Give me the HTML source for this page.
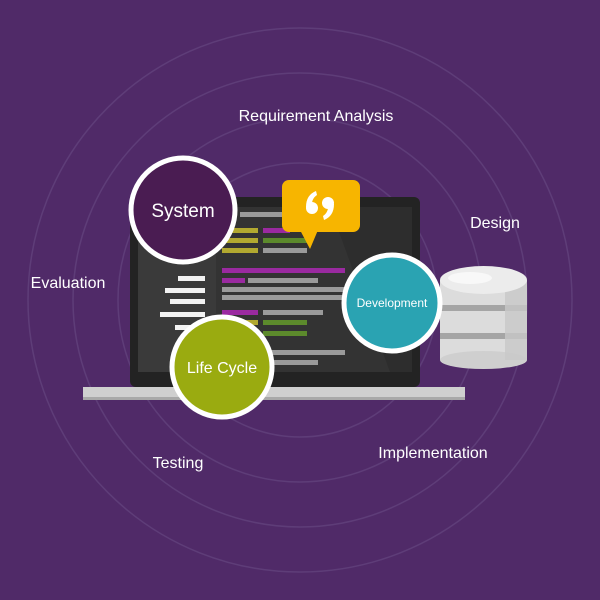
<!DOCTYPE html>
<html><head><meta charset="utf-8"><style>
html,body{margin:0;padding:0;background:#502a68;}
svg{display:block}
text{font-family:"Liberation Sans",sans-serif;fill:#fff;}
</style></head><body>
<svg width="600" height="600" viewBox="0 0 600 600" xmlns="http://www.w3.org/2000/svg">
<rect width="600" height="600" fill="#502a68"/>
<g fill="none" stroke="#654680" stroke-width="1.5" opacity="0.7">
<circle cx="300" cy="300" r="272"/>
<circle cx="300" cy="300" r="227"/>
<circle cx="300" cy="300" r="182"/>
<circle cx="300" cy="300" r="137"/>
<circle cx="300" cy="300" r="92"/>
</g>
<g font-size="16">
<text x="316" y="121" text-anchor="middle">Requirement Analysis</text>
<text x="495" y="228" text-anchor="middle">Design</text>
<text x="68" y="288" text-anchor="middle">Evaluation</text>
<text x="178" y="468" text-anchor="middle">Testing</text>
<text x="433" y="458" text-anchor="middle">Implementation</text>
</g>
<rect x="130" y="197" width="290" height="190" rx="6" fill="#232323"/>
<rect x="138" y="207" width="274" height="165" fill="#333"/>
<rect x="138" y="207" width="78" height="165" fill="#3a3a3a"/>
<polygon points="330,207 412,207 412,372 390,372" fill="#2d2d2d"/>
<rect x="83" y="387" width="382" height="13" fill="#cfcfcf"/>
<rect x="83" y="397" width="382" height="3" fill="#a8a8a8"/>
<g>
<rect x="240" y="212" width="67" height="5" fill="#9a9a9a"/>
<rect x="222" y="228" width="36" height="5" fill="#b2a930"/><rect x="263" y="228" width="27" height="5" fill="#9a2aa0"/>
<rect x="222" y="238" width="36" height="5" fill="#b2a930"/><rect x="263" y="238" width="44" height="5" fill="#5c8a2c"/>
<rect x="222" y="248" width="36" height="5" fill="#b2a930"/><rect x="263" y="248" width="44" height="5" fill="#9a9a9a"/>
<rect x="222" y="268" width="123" height="5" fill="#9a2aa0"/>
<rect x="222" y="278" width="23" height="5" fill="#9a2aa0"/><rect x="248" y="278" width="70" height="5" fill="#9a9a9a"/>
<rect x="222" y="287" width="123" height="5" fill="#9a9a9a"/>
<rect x="222" y="295" width="123" height="5" fill="#9a9a9a"/>
<rect x="222" y="310" width="36" height="5" fill="#9a2aa0"/><rect x="263" y="310" width="60" height="5" fill="#9a9a9a"/>
<rect x="222" y="320" width="36" height="5" fill="#b2a930"/><rect x="263" y="320" width="44" height="5" fill="#5c8a2c"/>
<rect x="263" y="331" width="44" height="5" fill="#5c8a2c"/>
<rect x="263" y="350" width="82" height="5" fill="#9a9a9a"/>
<rect x="263" y="360" width="55" height="5" fill="#9a9a9a"/>
<g fill="#f2f2f2">
<rect x="178" y="276" width="27" height="5"/>
<rect x="165" y="288" width="40" height="5"/>
<rect x="170" y="299" width="35" height="5"/>
<rect x="160" y="312" width="45" height="5"/>
<rect x="175" y="325" width="30" height="5"/>
</g>
</g>
<rect x="282" y="180" width="78" height="52" rx="7" fill="#f7b500"/>
<polygon points="300,230 318,230 310,249" fill="#f7b500"/>
<g fill="#fff">
<circle cx="312" cy="208" r="6"/>
<path d="M306 207 Q306 195 316 191 L317 195 Q311 199 312 207 Z"/>
<circle cx="328" cy="203" r="6"/>
<path d="M334 204 Q334 216 324 220 L323 216 Q329 212 328 204 Z"/>
</g>
<g>
<rect x="440" y="280" width="87" height="80" fill="#dcdcdc"/>
<ellipse cx="483.5" cy="360" rx="43.5" ry="9" fill="#cfcfcf"/>
<rect x="440" y="305" width="87" height="6" fill="#a5a5a5"/>
<rect x="440" y="333" width="87" height="6" fill="#a5a5a5"/>
<rect x="505" y="280" width="22" height="80" fill="#c8c8c8" opacity="0.8"/>
<ellipse cx="483.5" cy="280" rx="43.5" ry="14" fill="#ececec"/>
<ellipse cx="470" cy="278" rx="22" ry="6" fill="#f8f8f8"/>
</g>
<circle cx="183" cy="210" r="52" fill="#4a1c52" stroke="#fff" stroke-width="5"/>
<text x="183" y="217" font-size="19" text-anchor="middle">System</text>
<circle cx="392" cy="303" r="48" fill="#2aa3b2" stroke="#fff" stroke-width="5"/>
<text x="392" y="307" font-size="12" text-anchor="middle">Development</text>
<circle cx="222" cy="367" r="50" fill="#9aab10" stroke="#fff" stroke-width="5"/>
<text x="222" y="373" font-size="16" text-anchor="middle">Life Cycle</text>
</svg>
</body></html>
